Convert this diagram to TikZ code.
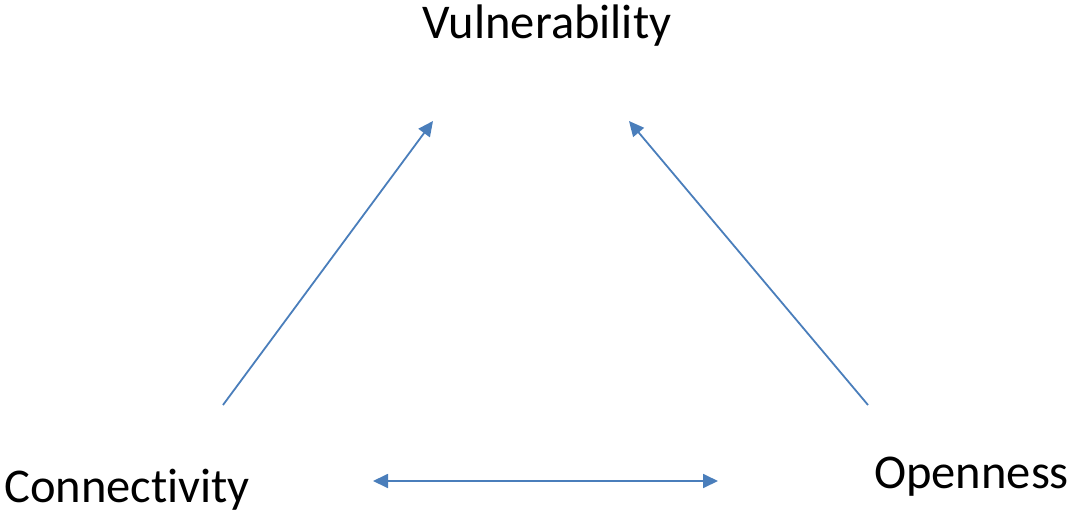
\documentclass[tikz,border=0pt]{standalone}
\usepackage{fontspec}
\setmainfont{Carlito}[Ligatures=NoCommon]
\usetikzlibrary{arrows.meta}
\definecolor{lineblue}{HTML}{4A7EBB}
\tikzset{
  label/.style={font=\fontsize{48.5}{56}\selectfont, inner sep=0pt},
  link/.style={draw=lineblue, line width=1.8pt, -{Triangle[length=15pt,width=14pt]}},
  both/.style={draw=lineblue, line width=1.8pt, {Triangle[length=15pt,width=14pt]}-{Triangle[length=15pt,width=14pt]}}
}
\begin{document}
\begin{tikzpicture}[x=1pt,y=-1pt]
\useasboundingbox (0,0) rectangle (1069,514);
\node[label, anchor=base] (vul) at (547,38) {Vulnerability};
\node[label, anchor=base west] (con) at (4,502) {Connectivity};
\node[label, anchor=base west] (ope) at (874,488) {Openness};
\coordinate (c1) at (223,405);
\coordinate (v1) at (433,121);
\coordinate (o1) at (868,405);
\coordinate (v2) at (629,121);
\coordinate (b1) at (373,481);
\coordinate (b2) at (718,481);
\draw[link] (c1) -- (v1);
\draw[link] (o1) -- (v2);
\draw[both] (b1) -- (b2);
\end{tikzpicture}
\end{document}
